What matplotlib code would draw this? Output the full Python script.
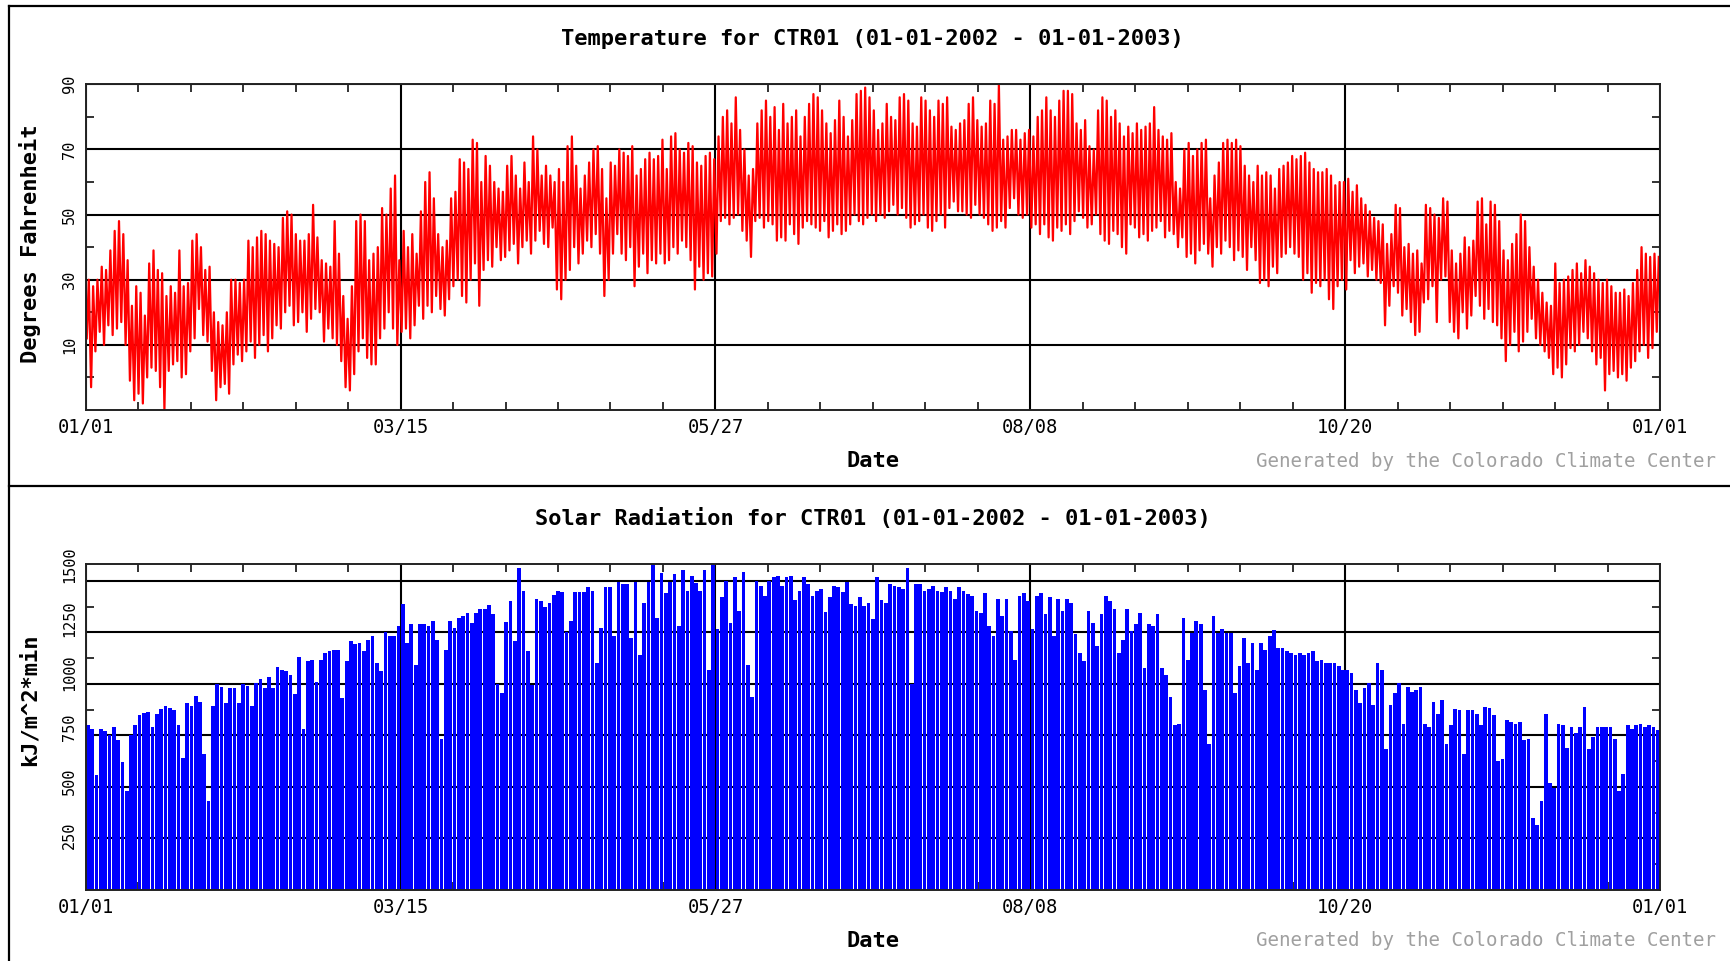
import matplotlib

matplotlib.use("Agg")
import matplotlib.pyplot as plt
import numpy as np
from matplotlib.lines import Line2D

# daily extremes (deg F), day 0 = 01/01/2002
TEMP_MAX = [
    30, 28, 30, 34, 33, 39, 45, 48, 44, 36, 22, 28, 26, 19, 35, 39, 33, 32, 25, 28,
    26, 39, 28, 29, 42, 44, 40, 33, 34, 20, 17, 16, 20, 30, 30, 29, 30, 42, 40, 43,
    45, 44, 42, 41, 40, 49, 51, 50, 44, 42, 42, 44, 53, 43, 36, 35, 34, 48, 38, 25,
    18, 28, 48,
    50, 48, 36, 38, 40, 52, 50, 58, 62, 36, 45, 40, 44, 38, 51, 60, 63, 55, 44, 40,
    42, 55, 57, 67, 66, 64, 73, 72, 60, 68, 65, 60, 58, 57, 65, 68, 62, 58, 66, 60,
    74, 70, 62, 65, 62, 60, 64, 60, 71, 74, 65, 58, 62, 66, 70, 71, 64, 55, 66, 65,
    70, 69,
    68, 71, 62, 64, 67, 69, 67, 68, 73, 64, 74, 75, 70, 69, 72, 71, 66, 65, 68, 69,
    67, 74, 80, 82, 78, 86, 76, 70, 62, 64, 78, 82, 85, 80, 83, 76, 84, 78, 80, 82,
    74, 80, 84, 87, 86, 82, 78, 75, 79, 85, 80, 74, 79, 87, 88, 89, 86, 82, 76, 78,
    84,
    80, 79, 86, 87, 85, 78, 77, 86, 85, 82, 80, 85, 84, 86, 77, 76, 78, 79, 84, 86,
    79, 77, 78, 85, 84, 90, 73, 74, 76, 76, 73, 75, 76, 74, 80, 82, 86, 82, 80, 85,
    88, 88, 87, 78, 76, 79, 71, 70, 82, 86, 85, 80, 82, 78, 74, 77, 75, 78, 76, 77,
    78, 83, 76, 74, 73, 75,
    60, 58, 70, 72, 68, 70, 72, 73, 55, 62, 66, 72, 73, 72, 73, 71, 65, 62, 60, 65,
    62, 63, 62, 58, 64, 65, 66, 68, 67, 68, 69, 66, 64, 63, 63, 64, 62, 59, 60, 60,
    61, 57, 59, 55, 53, 51, 49, 48, 47, 41, 44, 53, 52, 40, 41, 38, 39, 35, 53, 52,
    50, 49,
    55, 54, 39, 35, 38, 43, 40, 42, 54, 55, 47, 54, 53, 48, 39, 36, 41, 44, 50, 48,
    40, 34, 30, 26, 23, 22, 35, 29, 30, 31, 33, 35, 32, 36, 34, 32, 30, 29, 30, 28,
    26, 26, 27, 25, 29, 33, 40, 38, 37, 38, 37,
]
TEMP_MIN = [
    12, -3, 8, 14, 10, 16, 13, 15, 17, 10, -1, -7, -5, -8, 0, 3, 2, -3, -10, 2,
    4, 5, 0, 1, 8, 12, 21, 13, 11, 2, -7, -3, -2, -5, 4, 7, 5, 8, 11, 6,
    10, 13, 8, 12, 16, 15, 20, 22, 16, 17, 20, 14, 18, 21, 20, 11, 15, 12, 10, 5,
    -3, -4, 1,
    8, 12, 6, 4, 4, 12, 15, 20, 15, 10, 14, 15, 12, 16, 22, 18, 22, 20, 25, 21,
    19, 24, 28, 30, 25, 23, 30, 35, 22, 33, 36, 34, 40, 36, 37, 39, 41, 35, 40, 42,
    38, 42, 45, 41, 40, 46, 27, 24, 30, 33, 40, 35, 38, 42, 40, 44, 38, 25, 30, 38,
    44, 38,
    36, 40, 28, 34, 38, 32, 36, 35, 38, 35, 36, 40, 38, 42, 40, 36, 27, 34, 30, 32,
    31, 38, 48, 49, 47, 49, 50, 45, 42, 37, 48, 49, 46, 48, 47, 42, 43, 42, 47, 44,
    41, 46, 48, 47, 46, 45, 48, 43, 45, 47, 44, 45, 47, 50, 48, 47, 49, 50, 48, 50,
    49,
    51, 53, 50, 52, 49, 46, 47, 48, 50, 46, 45, 48, 50, 46, 52, 54, 51, 51, 50, 49,
    53, 50, 49, 47, 45, 46, 48, 46, 52, 55, 50, 49, 50, 46, 47, 44, 47, 43, 42, 46,
    45, 47, 44, 48, 51, 49, 46, 47, 50, 44, 42, 41, 45, 44, 40, 38, 47, 46, 43, 44,
    42, 45, 46, 48, 43, 45,
    44, 40, 43, 37, 38, 35, 39, 41, 38, 34, 40, 38, 42, 40, 36, 39, 37, 33, 40, 36,
    29, 30, 28, 34, 32, 37, 38, 40, 38, 37, 30, 32, 26, 29, 28, 30, 24, 21, 28, 30,
    27, 36, 32, 34, 35, 31, 33, 30, 29, 16, 22, 28, 26, 19, 21, 17, 13, 14, 23, 24,
    28, 17,
    30, 31, 17, 14, 12, 20, 15, 19, 25, 22, 18, 21, 17, 16, 12, 5, 10, 14, 8, 11,
    14, 18, 12, 10, 8, 6, 1, 3, 0, 4, 9, 8, 10, 14, 12, 8, 4, 6, -4, 1,
    2, 0, 1, -1, 3, 5, 8, 10, 6, 9, 14,
]
# daily peak solar radiation (kJ/m^2*min)
SOLAR_PEAK = [
    800, 780, 560, 780, 770, 750, 790, 730, 620, 480, 750, 800, 850, 860, 865, 790, 855, 880, 895, 885,
    875, 800, 640, 905, 895, 940, 910, 660, 430, 895, 1000, 985, 905, 980, 980, 905, 1000, 990, 895, 1005,
    1025, 980, 1035, 980, 1080, 1065, 1060, 1045, 950, 1130, 780, 1110, 1115, 1010, 1115, 1150, 1160, 1165, 1165, 930,
    1110, 1210, 1195,
    1200, 1158, 1215, 1231, 1100, 1060, 1250, 1232, 1232, 1280, 1386, 1199, 1288, 1090, 1288, 1288, 1280, 1307, 1215, 734,
    1166, 1307, 1272, 1320, 1329, 1345, 1293, 1345, 1365, 1365, 1381, 1337, 1000, 954, 1300, 1402, 1207, 1560, 1451, 1158,
    994, 1414, 1402, 1374, 1394, 1430, 1451, 1446, 1250, 1304, 1444, 1444, 1444, 1468, 1451, 1100, 1272, 1468, 1468, 1231,
    1492, 1484, 1484, 1223, 1492, 1142, 1394, 1492, 1598, 1320, 1540, 1443, 1492, 1533, 1280, 1554, 1451, 1525, 1490, 1451,
    1554, 1068, 1582, 1264, 1419, 1500, 1297, 1517, 1354, 1541, 1093, 938, 1500, 1476, 1427, 1500, 1517, 1522, 1476, 1517,
    1522, 1405, 1451, 1517, 1484, 1427, 1451, 1460, 1348, 1419, 1476, 1468, 1446, 1492, 1386, 1378, 1420, 1378, 1394, 1313,
    1517, 1406, 1394, 1484, 1476,
    1468, 1460, 1560, 1000, 1484, 1484, 1451, 1460, 1476, 1451, 1446, 1468, 1451, 1411, 1468, 1451, 1435, 1427, 1354, 1345,
    1443, 1280, 1231, 1411, 1329, 1411, 1256, 1117, 1427, 1443, 1402, 1264, 1427, 1443, 1337, 1419, 1231, 1411, 1354, 1411,
    1394, 1240, 1150, 1109, 1354, 1297, 1182, 1337, 1427, 1402, 1362, 1150, 1215, 1362, 1256, 1288, 1345, 1076, 1288, 1280,
    1337, 1076, 1044, 938,
    799, 807, 1321, 1117, 1248, 1305, 1288, 970, 709, 1329, 1248, 1264, 1248, 1248, 954, 1085, 1223, 1101, 1199, 1068,
    1199, 1166, 1231, 1261, 1174, 1174, 1158, 1150, 1142, 1150, 1142, 1150, 1158, 1109, 1117, 1101, 1101, 1101, 1085, 1068,
    1068, 1052, 970, 905, 979, 1003, 897, 1101, 1068, 685, 897, 954, 1003, 807, 987, 962, 970, 987, 807,
    791, 913, 856, 922, 709, 799, 880, 873, 660, 872, 873, 856, 799, 890, 883, 848, 628, 636, 826, 815,
    807, 815, 726, 734, 350, 315, 430, 856, 521, 497, 807, 799, 690, 791, 760, 791, 889, 685, 742, 791,
    791, 791, 791, 734, 481, 563, 799, 783, 799, 807, 791, 799, 791, 775,
]
DATE_TICKS = [0, 73, 146, 219, 292, 365]
DATE_LABELS = ["01/01", "03/15", "05/27", "08/08", "10/20", "01/01"]
TEMP_TICKS = [10, 30, 50, 70, 90]
SOLAR_TICKS = [250, 500, 750, 1000, 1250, 1500]

MONO = "DejaVu Sans Mono"
plt.rcParams.update({"font.family": MONO, "axes.linewidth": 1.4, "axes.edgecolor": "#222222"})

W, H = 1730, 961
fig = plt.figure(figsize=(W / 100, H / 100), dpi=100)


def px_ax(left, top, right, bottom):
    return fig.add_axes([left / W, 1 - bottom / H, (right - left) / W, (bottom - top) / H])


def style(ax, ylim, yticks, ystep, label_top=None):
    ax.set_xlim(0, 365)
    ax.set_ylim(*ylim)
    ax.set_xticks(DATE_TICKS)
    ax.set_xticklabels(DATE_LABELS, fontsize=13.5)
    ax.set_xticks([k * 73 / 6 for k in range(31) if k % 6], minor=True)
    # the source chart spreads its y labels over the full height up to the last label,
    # independent of where its grid lines fall
    scale = 1.0 if label_top is None else ylim[1] / label_top
    ax.set_yticks([ylim[0] + (v - ylim[0]) * scale for v in yticks])
    ax.set_yticklabels([str(v) for v in yticks], rotation=90, va="center", fontsize=11)
    ax.set_yticks(np.arange(yticks[0] - ystep / 2, ylim[1], ystep), minor=True)
    ax.tick_params(which="major", length=0, pad=6)
    ax.tick_params(which="minor", direction="in", length=6, width=1.3, color="#222222",
                   top=True, right=True, bottom=True, left=True)
    ax.grid(True, axis="x", which="major", color="black", lw=1.5)
    for v in yticks:
        ax.axhline(v, color="black", lw=1.5, zorder=0.5)
    ax.set_axisbelow(True)


# temperature panel
n = len(TEMP_MAX)
days = np.arange(n)
tx = np.empty(2 * n)
ty = np.empty(2 * n)
tx[0::2], tx[1::2] = days + 0.25, days + 0.72
ty[0::2], ty[1::2] = TEMP_MIN, TEMP_MAX

ax1 = px_ax(85.7, 84.3, 1660, 410)
ax1.plot(tx, ty, color="#ff0000", lw=1.6)
style(ax1, (-10, 90), TEMP_TICKS, 20)

# solar radiation panel
ax2 = px_ax(85.7, 564.3, 1660, 890)
ax2.bar(np.arange(len(SOLAR_PEAK)) + 0.5, SOLAR_PEAK, width=0.86, color="#0000ff", lw=0)
style(ax2, (0, 1580), SOLAR_TICKS, 250, label_top=SOLAR_TICKS[-1])

cx = (85.7 + 1660) / 2 / W
for top, title, ylab, ylab_y in [
    (0, "Temperature for CTR01 (01-01-2002 - 01-01-2003)", "Degrees Fahrenheit", 244),
    (480, "Solar Radiation for CTR01 (01-01-2002 - 01-01-2003)", "kJ/m^2*min", 700),
]:
    fig.text(cx, 1 - (top + 38.6) / H, title, ha="center", va="center", fontsize=15.8, fontweight="bold")
    fig.text(cx, 1 - (top + 461) / H, "Date", ha="center", va="center", fontsize=15.8, fontweight="bold")
    fig.text(1716 / W, 1 - (top + 461) / H, "Generated by the Colorado Climate Center",
             ha="right", va="center", fontsize=13.8, color="#a0a0a0")
    fig.text(30 / W, 1 - ylab_y / H, ylab, rotation=90, ha="center", va="center",
             fontsize=15.8, fontweight="bold")

# outer frame and panel separator
for xs, ys in [([9, W], [5.5, 5.5]), ([9, 9], [5.5, H]), ([9, W], [485.5, 485.5])]:
    fig.add_artist(Line2D([x / W for x in xs], [1 - y / H for y in ys], color="black", lw=1.6))

fig.savefig("out.png", dpi=100)
